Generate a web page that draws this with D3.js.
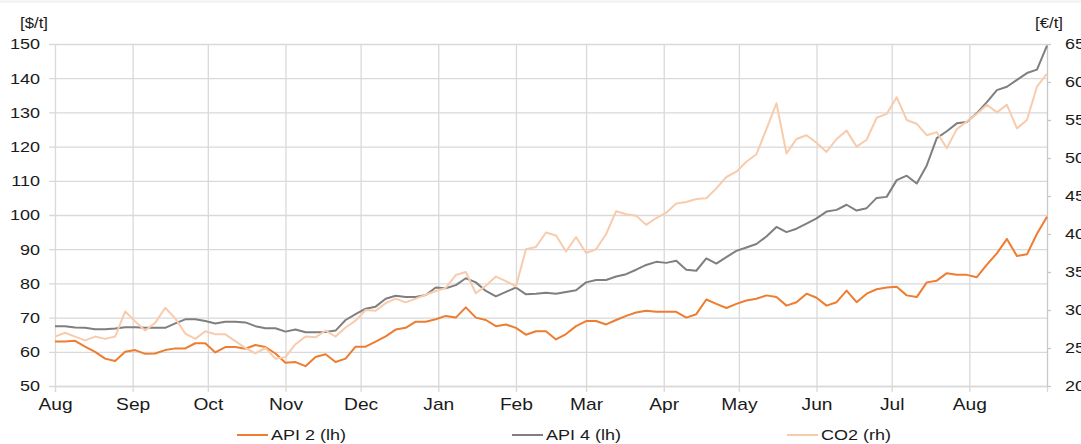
<!DOCTYPE html>
<html>
<head>
<meta charset="utf-8">
<script src="https://cdn.jsdelivr.net/npm/d3@7"></script>
<style>
  body { margin: 0; background: #fff; }
  svg { display: block; font-family: "Liberation Sans", Arial, sans-serif; }
</style>
</head>
<body>
<div id="chart"></div>
<script>
// Data (sampled every 4 days)
const dates = [
  "2020-08-01","2020-08-05","2020-08-09","2020-08-13","2020-08-17","2020-08-21","2020-08-25","2020-08-29",
  "2020-09-02","2020-09-06","2020-09-10","2020-09-14","2020-09-18","2020-09-22","2020-09-26","2020-09-30",
  "2020-10-04","2020-10-08","2020-10-12","2020-10-16","2020-10-20","2020-10-24","2020-10-28",
  "2020-11-01","2020-11-05","2020-11-09","2020-11-13","2020-11-17","2020-11-21","2020-11-25","2020-11-29",
  "2020-12-03","2020-12-07","2020-12-11","2020-12-15","2020-12-19","2020-12-23","2020-12-27","2020-12-31",
  "2021-01-04","2021-01-08","2021-01-12","2021-01-16","2021-01-20","2021-01-24","2021-01-28",
  "2021-02-01","2021-02-05","2021-02-09","2021-02-13","2021-02-17","2021-02-21","2021-02-25",
  "2021-03-01","2021-03-05","2021-03-09","2021-03-13","2021-03-17","2021-03-21","2021-03-25","2021-03-29",
  "2021-04-02","2021-04-06","2021-04-10","2021-04-14","2021-04-18","2021-04-22","2021-04-26","2021-04-30",
  "2021-05-04","2021-05-08","2021-05-12","2021-05-16","2021-05-20","2021-05-24","2021-05-28",
  "2021-06-01","2021-06-05","2021-06-09","2021-06-13","2021-06-17","2021-06-21","2021-06-25","2021-06-29",
  "2021-07-03","2021-07-07","2021-07-11","2021-07-15","2021-07-19","2021-07-23","2021-07-27","2021-07-31",
  "2021-08-04","2021-08-08","2021-08-12","2021-08-16","2021-08-20","2021-08-24","2021-08-28","2021-09-01"
]
const api2 = [
  63.0, 63.0, 63.2, 61.5, 60.0, 58.0, 57.3, 60.0, 60.5, 59.4,
  59.5, 60.5, 61.0, 61.0, 62.5, 62.5, 59.8, 61.4, 61.4, 60.9,
  62.0, 61.4, 59.5, 56.8, 57.0, 55.8, 58.5, 59.3, 57.0, 58.0,
  61.5, 61.5, 63.0, 64.5, 66.5, 67.0, 68.8, 68.8, 69.5, 70.5,
  70.0, 73.0, 70.0, 69.3, 67.5, 68.0, 67.0, 65.0, 66.0, 66.0,
  63.6, 65.2, 67.5, 69.0, 69.0, 68.0, 69.3, 70.5, 71.5, 72.0,
  71.7, 71.7, 71.7, 70.0, 71.0, 75.3, 74.0, 72.8, 74.0, 75.0,
  75.5, 76.5, 76.0, 73.5, 74.5, 77.0, 75.8, 73.5, 74.5, 77.9,
  74.5, 77.0, 78.3, 78.8, 79.0, 76.5, 76.0, 80.3, 80.8, 83.0,
  82.5, 82.5, 81.8, 85.5, 88.8, 93.0, 88.0, 88.5, 94.5, 99.5
]
const api4 = [
  67.5, 67.5, 67.1, 67.0, 66.6, 66.6, 66.8, 67.2, 67.2, 67.0,
  67.0, 67.0, 68.3, 69.5, 69.5, 69.0, 68.3, 68.8, 68.8, 68.6,
  67.5, 66.9, 66.9, 65.9, 66.5, 65.7, 65.7, 65.8, 66.2, 69.3,
  71.0, 72.6, 73.2, 75.5, 76.4, 76.0, 76.0, 76.6, 78.8, 78.6,
  79.5, 81.5, 80.3, 77.8, 76.2, 77.5, 78.8, 76.8, 77.0, 77.3,
  77.0, 77.5, 78.0, 80.3, 81.0, 81.0, 82.0, 82.7, 84.0, 85.4,
  86.3, 86.0, 86.6, 84.0, 83.7, 87.3, 85.8, 87.7, 89.5, 90.5,
  91.5, 93.7, 96.5, 95.0, 96.0, 97.5, 99.0, 101.0, 101.5, 103.0,
  101.3, 102.0, 105.0, 105.3, 110.2, 111.5, 109.2, 114.5, 122.5, 124.5,
  126.8, 127.2, 129.8, 133.0, 136.5, 137.5, 139.5, 141.5, 142.5, 149.5
]
const co2 = [
  26.5, 27.0, 26.5, 26.0, 26.5, 26.2, 26.5, 29.8, 28.5, 27.3,
  28.3, 30.3, 28.9, 26.9, 26.2, 27.2, 26.8, 26.8, 25.9, 25.0,
  24.3, 25.0, 23.6, 23.8, 25.5, 26.5, 26.4, 27.3, 26.5, 27.7,
  28.6, 30.0, 29.9, 30.9, 31.5, 31.0, 31.5, 32.0, 32.5, 32.9,
  34.6, 35.0, 32.2, 33.2, 34.4, 33.8, 33.1, 38.0, 38.3, 40.2,
  39.8, 37.7, 39.6, 37.5, 38.0, 40.0, 43.0, 42.6, 42.4, 41.2,
  42.1, 42.8, 44.0, 44.2, 44.6, 44.7, 46.0, 47.5, 48.2, 49.5,
  50.5, 53.8, 57.2, 50.6, 52.5, 53.0, 52.0, 50.8, 52.5, 53.6,
  51.5, 52.4, 55.3, 55.8, 58.0, 55.0, 54.5, 53.0, 53.4, 51.3,
  53.8, 54.8, 55.8, 57.0, 56.0, 57.0, 53.9, 55.0, 59.4, 61.1
]
const leftTicks = [50, 60, 70, 80, 90, 100, 110, 120, 130, 140, 150]
const rightTicks = [20, 25, 30, 35, 40, 45, 50, 55, 60, 65]
const seriesNames = ["API 2 (lh)", "API 4 (lh)", "CO2 (rh)"]
const seriesColors = ["#ed7d31", "#7f7f7f", "#f8cbad"]
const leftUnit = "[$/t]"
const rightUnit = "[€/t]"

const width = 1081
const height = 444
const margin = {top: 44, bottom: 58, left: 55, right: 34}
const netWidth = width - margin.left - margin.right
const netHeight = height - margin.top - margin.bottom
const sx = 1.2   // text in the reference is drawn a bit wide

const svg = d3.select("div#chart").append("svg").attr("width", width).attr("height", height)
svg.append("line").attr("x1", 0).attr("x2", width).attr("y1", 1.5).attr("y2", 1.5)
    .attr("stroke", "#f0f0f0").attr("stroke-width", 2)

const parse = d3.timeParse("%Y-%m-%d")
const days = dates.map(parse)
const start = days[0]
const end = days[days.length - 1]

const x = d3.scaleTime().domain([start, end]).range([0, netWidth])
const yL = d3.scaleLinear().domain([50, 150]).range([netHeight, 0])
const yR = d3.scaleLinear().domain([20, 65]).range([netHeight, 0])
const months = d3.timeMonth.range(start, end)

const elementGroup = svg.append("g").attr("transform", `translate(${margin.left}, ${margin.top})`)

function wide(sel, xPos) {
    sel.attr("x", xPos / sx).attr("transform", `scale(${sx},1)`)
}

// vertical grid
const xGrid = elementGroup.append("g").attr("transform", `translate(0, ${netHeight})`)
    .call(d3.axisBottom(x).tickValues(months).tickSize(-netHeight).tickFormat(""))
xGrid.select(".domain").remove()
xGrid.selectAll("line").attr("stroke", "#d9d9d9").attr("stroke-width", 1.3)

// horizontal grid + left labels
const yAxisGroup = elementGroup.append("g")
    .call(d3.axisLeft(yL).tickValues(leftTicks).tickSize(-netWidth).tickPadding(0))
yAxisGroup.select(".domain").remove()
yAxisGroup.selectAll("line").attr("x1", -6).attr("stroke", "#d9d9d9").attr("stroke-width", 1.3)
yAxisGroup.selectAll("text").attr("font-size", 15).attr("fill", "#1a1a1a")
    .call(wide, -15)

// bottom axis
const xAxisGroup = elementGroup.append("g").attr("transform", `translate(0, ${netHeight})`)
    .call(d3.axisBottom(x).tickValues(months).tickSize(6).tickPadding(7).tickFormat(d3.timeFormat("%b")))
xAxisGroup.select(".domain").attr("stroke", "#d9d9d9").attr("stroke-width", 1.3)
xAxisGroup.selectAll("line").attr("stroke", "#d9d9d9").attr("stroke-width", 1.3)
xAxisGroup.selectAll("text").attr("font-size", 16).attr("fill", "#1a1a1a")
    .call(wide, 0)

// right axis
const yRAxisGroup = elementGroup.append("g").attr("transform", `translate(${netWidth}, 0)`)
    .call(d3.axisRight(yR).tickValues(rightTicks).tickSizeInner(4).tickSizeOuter(0))
yRAxisGroup.select(".domain").attr("stroke", "#c8c8c8").attr("stroke-width", 1.3)
yRAxisGroup.selectAll("line").attr("stroke", "#c8c8c8").attr("stroke-width", 1.3)
yRAxisGroup.selectAll("text").attr("font-size", 15).attr("fill", "#1a1a1a")
    .call(wide, 18)

// unit labels
svg.append("text").text(leftUnit).attr("y", 28).attr("font-size", 14).attr("fill", "#1a1a1a").call(wide, 20)
svg.append("text").text(rightUnit).attr("y", 28).attr("font-size", 14).attr("fill", "#1a1a1a").call(wide, 1035)

// lines
const lineLeft = d3.line().x((d, i) => x(days[i])).y(d => yL(d))
const lineRight = d3.line().x((d, i) => x(days[i])).y(d => yR(d))
const linesGroup = elementGroup.append("g").attr("fill", "none").attr("stroke-width", 2)
    .attr("stroke-linejoin", "round")
linesGroup.append("path").attr("d", lineLeft(api2)).attr("stroke", seriesColors[0])
linesGroup.append("path").attr("d", lineLeft(api4)).attr("stroke", seriesColors[1])
linesGroup.append("path").attr("d", lineRight(co2)).attr("stroke", seriesColors[2])

// legend
const legendX = [237, 512, 787]
const legend = svg.append("g").selectAll("g")
    .data(seriesNames)
    .enter().append("g")
    .attr("transform", (d, i) => `translate(${legendX[i]}, 435)`)
legend.append("line").attr("x1", 0).attr("x2", 31)
    .attr("stroke", (d, i) => seriesColors[i]).attr("stroke-width", 2)
legend.append("text").text(d => d).attr("y", 5).attr("font-size", 15).attr("fill", "#1a1a1a")
    .call(wide, 34)
</script>
</body>
</html>
